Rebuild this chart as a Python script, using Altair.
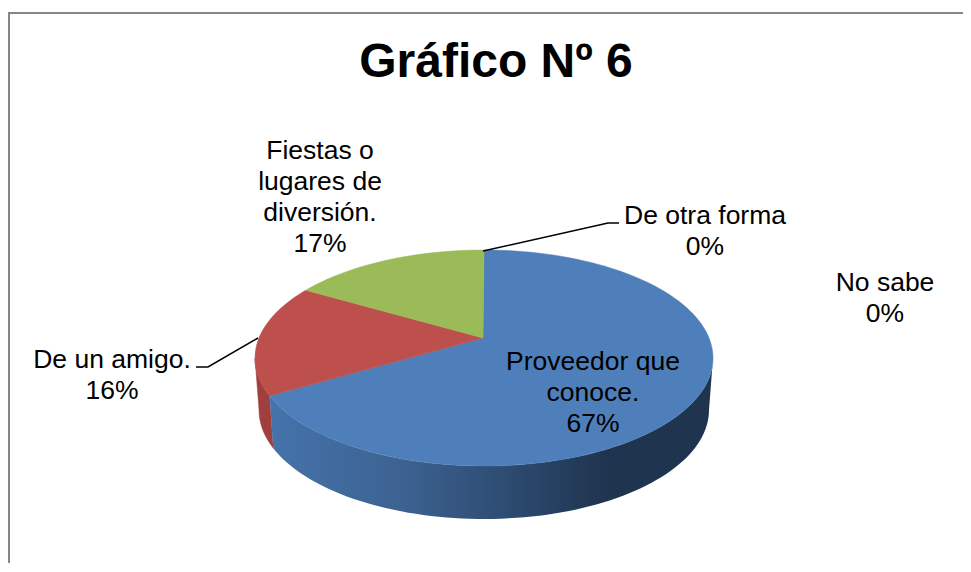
import math
import pandas as pd
import altair as alt

# Values
categories = ["Proveedor que conoce.", "De un amigo.", "Fiestas o lugares de diversión.", "De otra forma", "No sabe"]
percents = [67, 16, 17, 0, 0]
# Where each slice ends along the drawn rim (% of the turn, as the perspective shows it)
rim_ends = [69.3, 85.8, 100.0]
title_text = "Gráfico Nº 6"

W, H = 955, 555
FONT = "Liberation Sans"
x_scale = alt.Scale(domain=[8, 8 + W], range=[0, W])
y_scale = alt.Scale(domain=[8, 8 + H], range=[0, H])

TOP = dict(cx=484.0, cy=358.0, rx=229.0, ry=108.0)
BASE = dict(cx=484.0, cy=410.0, rx=225.0, ry=109.0)
APEX = (483.0, 338.0)


def rim(e, a, b, step=2.0):
    n = max(2, int(abs(b - a) / step) + 1)
    pts = []
    for i in range(n + 1):
        t = math.radians(a + (b - a) * i / n)
        pts.append((e["cx"] + e["rx"] * math.sin(t), e["cy"] - e["ry"] * math.cos(t)))
    return pts


def polygon(pts, **style):
    pts = pts + [pts[0]]
    df = pd.DataFrame({"x": [p[0] for p in pts], "y": [p[1] for p in pts], "i": range(len(pts))})
    return alt.Chart(df).mark_line(interpolate="linear", **style).encode(
        x=alt.X("x:Q", scale=x_scale, axis=None),
        y=alt.Y("y:Q", scale=y_scale, axis=None),
        order="i:Q",
    )


def path(pts, color, width):
    df = pd.DataFrame({"x": [p[0] for p in pts], "y": [p[1] for p in pts], "i": range(len(pts))})
    return alt.Chart(df).mark_line(color=color, strokeWidth=width).encode(
        x=alt.X("x:Q", scale=x_scale, axis=None),
        y=alt.Y("y:Q", scale=y_scale, axis=None),
        order="i:Q",
    )


def label(text, x, y, size=26.5, weight="normal"):
    df = pd.DataFrame({"x": [x], "y": [y], "t": [text]})
    return alt.Chart(df).mark_text(
        font=FONT, fontSize=size, fontWeight=weight, color="#000000",
        align="center", baseline="middle", lineBreak="\n", lineHeight=31,
    ).encode(
        x=alt.X("x:Q", scale=x_scale, axis=None),
        y=alt.Y("y:Q", scale=y_scale, axis=None),
        text="t:N",
    )


def deg(share):
    return share * 3.6


a_blue, a_red, a_green = deg(rim_ends[0]), deg(rim_ends[1]), deg(rim_ends[2])

wall_gradient = alt.LinearGradient(
    gradient="linear", x1=0, x2=1, y1=0, y2=0,
    stops=[
        alt.GradientStop(offset=0.0, color="#4573ab"),
        alt.GradientStop(offset=0.3, color="#3c6291"),
        alt.GradientStop(offset=0.55, color="#2c4a6f"),
        alt.GradientStop(offset=0.76, color="#1f344f"),
        alt.GradientStop(offset=1.0, color="#1f344f"),
    ],
)

layers = [
    # frame
    path([(8, 13), (963, 13)], "#868686", 2),
    alt.Chart(pd.DataFrame({"a": [0]})).mark_rule(color="#868686", strokeWidth=2).encode(
        x=alt.value(1), y=alt.value(4), y2=alt.value(H)
    ),
    # walls
    polygon(rim(TOP, a_blue, 270) + rim(BASE, 270, a_blue), fill="#a0403e", stroke="#a0403e", strokeWidth=0.5),
    polygon(rim(TOP, a_blue, 90) + rim(BASE, 90, a_blue), fill=wall_gradient, stroke=None, strokeWidth=0),
    # top faces
    polygon([APEX] + rim(TOP, 0, a_blue), fill="#4e7fba", stroke="#4e7fba", strokeWidth=0.5),
    polygon([APEX] + rim(TOP, a_blue, a_red), fill="#bd4f4c", stroke="#bd4f4c", strokeWidth=0.5),
    polygon([APEX] + rim(TOP, a_red, a_green), fill="#9bbb59", stroke="#9bbb59", strokeWidth=0.5),
    # leaders
    path([(483, 251), (608, 223), (619, 223)], "#000000", 1.5),
    path([(258, 338), (208, 367), (196, 367)], "#000000", 1.5),
    # labels (y is the first line's centre)
    label(f"Fiestas o\nlugares de\ndiversión.\n{percents[2]}%", 320, 151),
    label(f"Proveedor que\nconoce.\n{percents[0]}%", 593, 362),
    label(f"De un amigo.\n{percents[1]}%", 112, 360),
    label(f"{categories[3]}\n{percents[3]}%", 705, 216),
    label(f"{categories[4]}\n{percents[4]}%", 885, 283),
    label(title_text, 496, 63, size=48, weight="bold"),
]

chart = alt.layer(*layers).properties(
    width=W, height=H, padding=0, autosize=alt.AutoSizeParams(type="none"), background="#ffffff"
).configure_view(stroke=None)

chart.save("out.html", embed_options={"renderer": "svg", "actions": False})
